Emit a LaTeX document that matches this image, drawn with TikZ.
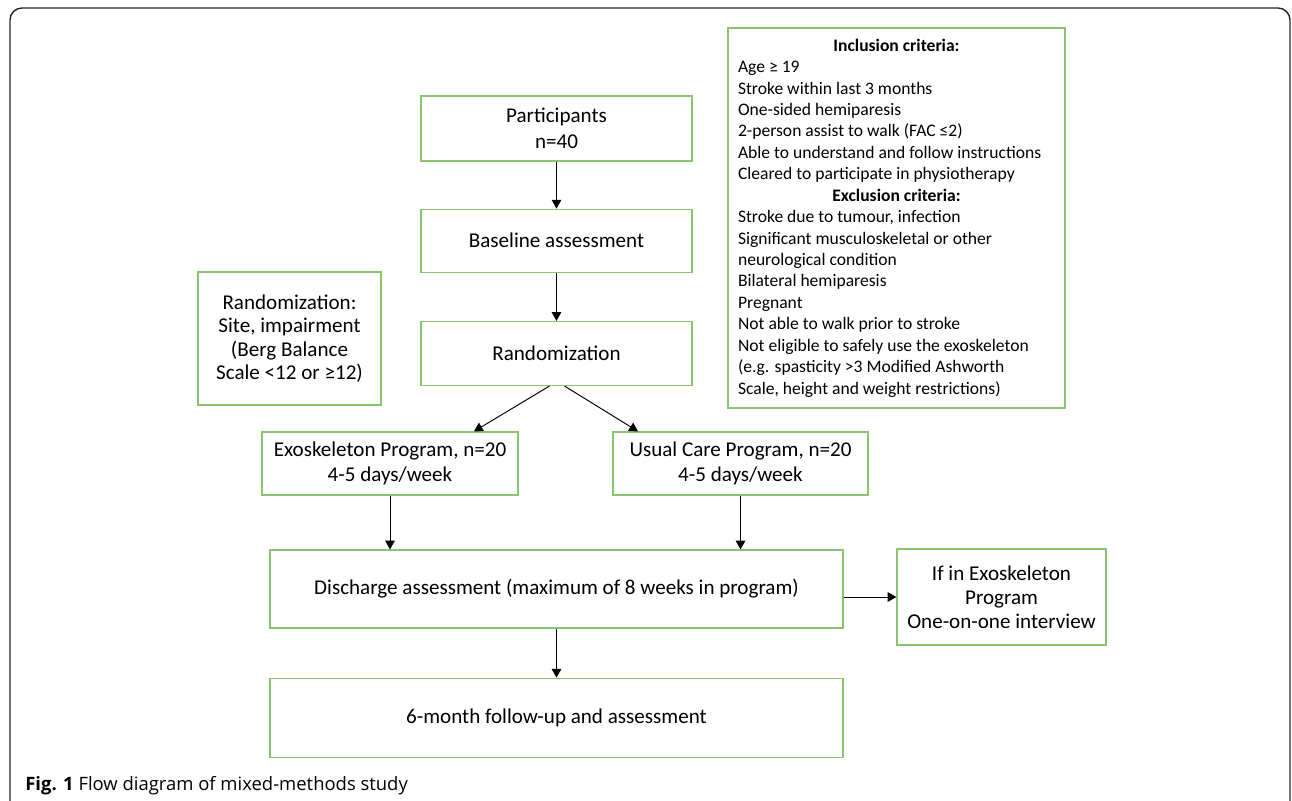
\documentclass[tikz,border=0pt]{standalone}
\usepackage{fontspec}
\setmainfont{Carlito}
\newfontfamily\capfont{Open Sans}
\usepackage{tikz}
\usetikzlibrary{arrows.meta, positioning}
\definecolor{boxgreen}{RGB}{140,195,110}
\tikzstyle{stage} = [rectangle, draw=boxgreen, line width=0.7pt, text centered, align=center, inner sep=2pt, font=\fontsize{12}{14.5}\selectfont]
\tikzstyle{criteria} = [rectangle, draw=boxgreen, line width=0.7pt, align=flush left, inner xsep=0.2cm, inner ysep=0pt, text width=6.34cm, font=\fontsize{10}{12.2}\selectfont]
\tikzstyle{arrow} = [line width=0.55pt, -{Triangle[width=5.5pt,length=5pt]}]
\tikzstyle{frame} = [rounded corners=0.24cm, line width=0.8pt, black!85]

\begin{document}
\begin{tikzpicture}[x=0.02cm, y=-0.02cm]
    \useasboundingbox (0,0) rectangle (1292,801);
    \draw [frame] (10,830) rectangle (1290,8);

    \node (part) [stage, minimum width=5.42cm, minimum height=1.3cm] at (556.5,128.5) {Participants\\n=40};
    \node (base) [stage, minimum width=5.42cm, minimum height=1.26cm, below=0.94cm of part] {Baseline assessment};
    \node (rand) [stage, minimum width=5.42cm, minimum height=1.28cm, below=0.96cm of base] {Randomization};
    \node (strata) [stage, minimum width=3.66cm, minimum height=2.66cm, font=\fontsize{12}{13.4}\selectfont] at (289.5,338.5) {Randomization:\\Site, impairment\\(Berg Balance\\Scale <12 or ≥12)};
    \node (crit) [criteria, minimum height=7.6cm] at (896.5,218) {\noindent\makebox[\hsize]{\textbf{Inclusion criteria:}}\\
        Age ≥ 19\\
        Stroke within last 3 months\\
        One-sided hemiparesis\\
        2-person assist to walk (FAC ≤2)\\
        Able to understand and follow instructions\\
        Cleared to participate in physiotherapy\\
        \makebox[\hsize]{\textbf{Exclusion criteria:}}\\
        Stroke due to tumour, infection\\
        Significant musculoskeletal or other\\
        neurological condition\\
        Bilateral hemiparesis\\
        Pregnant\\
        Not able to walk prior to stroke\\
        Not eligible to safely use the exoskeleton\\
        (e.g. spasticity >3 Modified Ashworth\\
        Scale, height and weight restrictions)};
    \node (exo) [stage, minimum width=5.12cm, minimum height=1.26cm] at (390,463.5) {Exoskeleton Program, n=20\\4-5 days/week};
    \node (usual) [stage, minimum width=5.1cm, minimum height=1.26cm] at (740.5,463.5) {Usual Care Program, n=20\\4-5 days/week};
    \node (disch) [stage, minimum width=11.46cm, minimum height=1.56cm] at (556.5,589) {Discharge assessment (maximum of 8 weeks in program)};
    \node (inter) [stage, minimum width=4.18cm, minimum height=1.92cm, font=\fontsize{12}{13.8}\selectfont] at (1001.5,597) {If in Exoskeleton\\Program\\One-on-one interview};
    \node (follow) [stage, minimum width=11.46cm, minimum height=1.58cm, below=0.98cm of disch] {6-month follow-up and assessment};
    \node (cap) [anchor=base west, inner sep=0pt, font=\capfont\fontsize{10.5}{12}\selectfont] at (25,790) {\textbf{Fig. 1} Flow diagram of mixed-methods study};

    \draw [arrow] (part) -- (base);
    \draw [arrow] (base) -- (rand);
    \draw [arrow] ([xshift=-0.14cm]rand.south) -- ([xshift=1.68cm]exo.north);
    \draw [arrow] ([xshift=0.16cm]rand.south) -- ([xshift=-2.05cm]usual.north);
    \draw [arrow] (exo) -- (exo |- disch.north);
    \draw [arrow] (usual) -- (usual |- disch.north);
    \draw [arrow] (disch.east |- inter.west) -- (inter.west);
    \draw [arrow] (disch) -- (follow);
\end{tikzpicture}
\end{document}
